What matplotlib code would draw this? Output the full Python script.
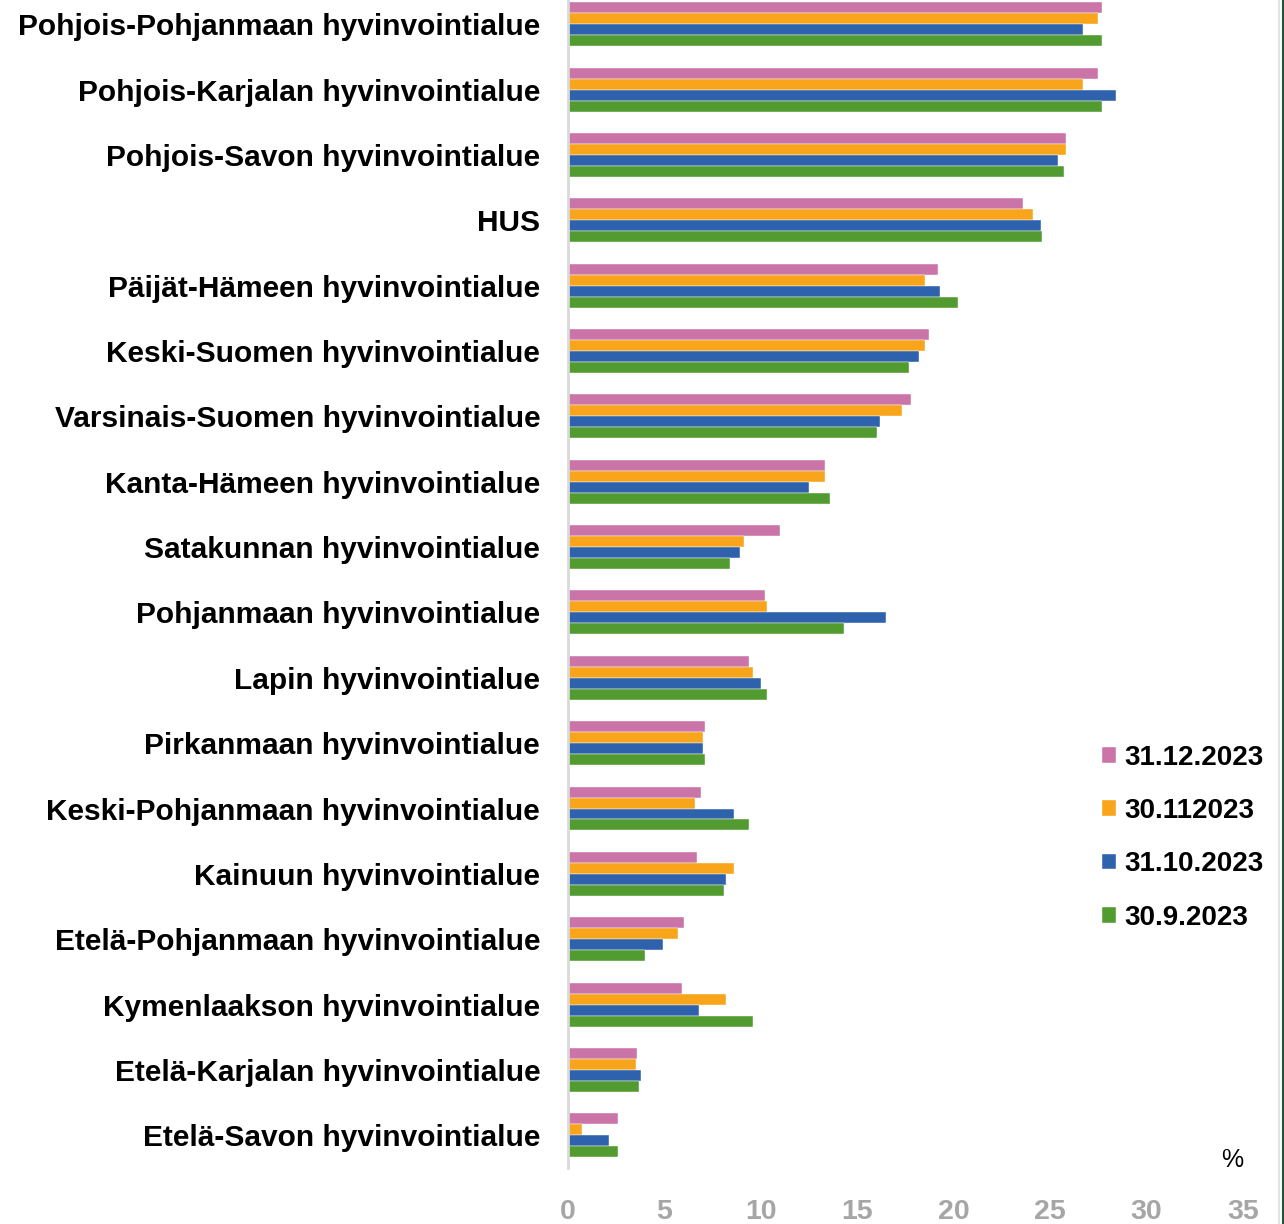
import numpy as np
import matplotlib.pyplot as plt
from matplotlib.lines import Line2D

regions = [
    "Pohjois-Pohjanmaan hyvinvointialue", "Pohjois-Karjalan hyvinvointialue",
    "Pohjois-Savon hyvinvointialue", "HUS", "Päijät-Hämeen hyvinvointialue",
    "Keski-Suomen hyvinvointialue", "Varsinais-Suomen hyvinvointialue",
    "Kanta-Hämeen hyvinvointialue", "Satakunnan hyvinvointialue",
    "Pohjanmaan hyvinvointialue", "Lapin hyvinvointialue",
    "Pirkanmaan hyvinvointialue", "Keski-Pohjanmaan hyvinvointialue",
    "Kainuun hyvinvointialue", "Etelä-Pohjanmaan hyvinvointialue",
    "Kymenlaakson hyvinvointialue", "Etelä-Karjalan hyvinvointialue",
    "Etelä-Savon hyvinvointialue",
]

dec_2023 = [27.7, 27.5, 25.8, 23.6, 19.2, 18.7, 17.8, 13.3, 11.0, 10.2, 9.4, 7.1, 6.9, 6.7, 6.0, 5.9, 3.6, 2.6]
nov_2023 = [27.5, 26.7, 25.8, 24.1, 18.5, 18.5, 17.3, 13.3, 9.1, 10.3, 9.6, 7.0, 6.6, 8.6, 5.7, 8.2, 3.5, 0.7]
oct_2023 = [26.7, 28.4, 25.4, 24.5, 19.3, 18.2, 16.2, 12.5, 8.9, 16.5, 10.0, 7.0, 8.6, 8.2, 4.9, 6.8, 3.8, 2.1]
sep_2023 = [27.7, 27.7, 25.7, 24.6, 20.2, 17.7, 16.0, 13.6, 8.4, 14.3, 10.3, 7.1, 9.4, 8.1, 4.0, 9.6, 3.7, 2.6]

series = [dec_2023, nov_2023, oct_2023, sep_2023]
labels = ["31.12.2023", "30.112023", "31.10.2023", "30.9.2023"]
colors = ["#CB74A8", "#F8A51B", "#2F62AC", "#529B30"]

plt.rcParams['font.family'] = ['Liberation Sans', 'DejaVu Sans']

fig = plt.figure(figsize=(12.84, 12.24), dpi=100)
ax = fig.add_axes([568 / 1284, 1 - 1168 / 1224, 675 / 1284, 1168 / 1224])

y = np.arange(len(regions))
h = 0.168
for i, (vals, lab, col) in enumerate(zip(series, labels, colors)):
    ax.barh(y + (i - 1.5) * h, vals, height=h, color=col, label=lab,
            edgecolor='white', linewidth=0.3)

ax.set_xlim(0, 35)
ax.set_ylim(17.5, -0.37)
ax.set_xticks(np.arange(0, 36, 5))
ax.set_yticks(y)
ax.set_yticklabels(regions, fontsize=21.5, fontweight='bold', color='black')
ax.tick_params(axis='y', length=0, pad=20)
ax.tick_params(axis='x', length=0, pad=22, labelsize=20.5, labelcolor='#A6A6A6')
for t in ax.get_xticklabels():
    t.set_fontweight('bold')

for s in ['top', 'right', 'bottom']:
    ax.spines[s].set_visible(False)
ax.spines['left'].set_color('#D9D9D9')
ax.spines['left'].set_linewidth(2)

leg = ax.legend(loc='upper left', bbox_to_anchor=(1088 / 1284, 1 - 731 / 1224),
                bbox_transform=fig.transFigure, frameon=False, fontsize=20,
                handlelength=0.5, handleheight=0.5, handletextpad=0.3,
                labelspacing=0.98, borderpad=0)
for t in leg.get_texts():
    t.set_fontweight('bold')

fig.text(1232 / 1284, 1 - 1160 / 1224, "%", fontsize=18, ha='center', va='center')

# screenshot border on the right edge
fig.add_artist(Line2D([1279 / 1284] * 2, [0, 1], color='#E3E3E3', lw=1.5))
fig.add_artist(Line2D([1283 / 1284] * 2, [0, 1], color='#1E5631', lw=1.5))

fig.savefig("out.png", dpi=100)
